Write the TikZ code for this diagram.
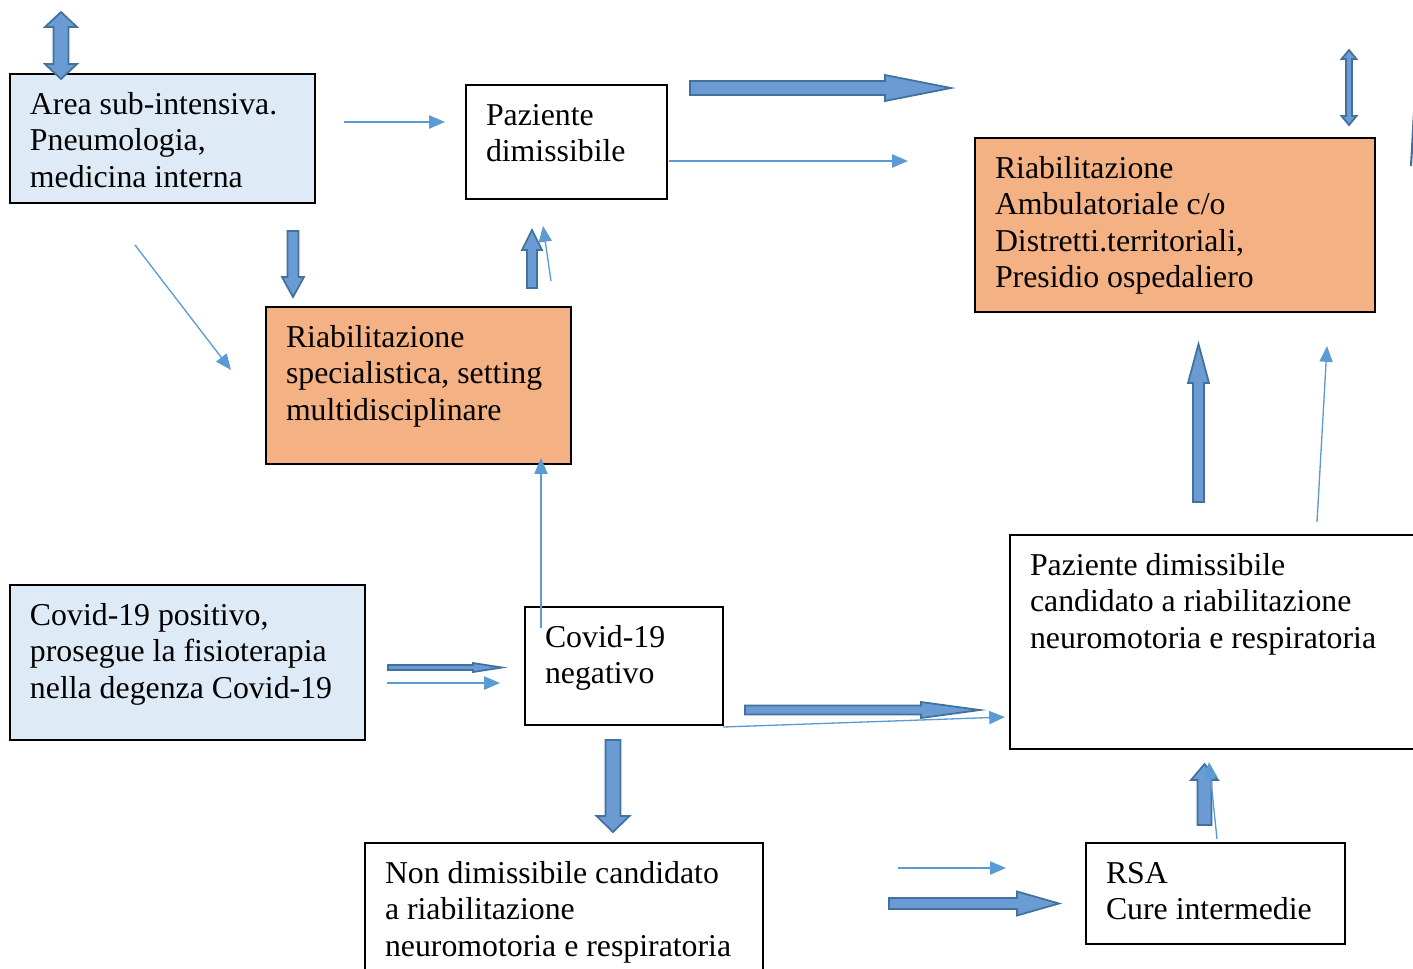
\documentclass[tikz,border=0pt]{standalone}
\usepackage{fontspec}
\setmainfont{Liberation Serif}
\usetikzlibrary{arrows.meta}
\newlength\px \setlength\px{0.02cm}
\definecolor{lblue}{HTML}{DEEBF7}
\definecolor{orng}{HTML}{F4B183}
\definecolor{thinc}{HTML}{5B9BD5}
\definecolor{bfill}{HTML}{6A9BD3}
\definecolor{bline}{HTML}{41719C}
\newcommand\bx[3]{\parbox[c][#2\px][t]{#1\px}{\fontsize{18.1pt}{20.7pt}\selectfont\setlength\leftskip{20\px}\vspace*{15\px}\strut #3}}
\newcommand\arrR[6]{\draw[barrow] (#1,#2-#4) -- (#3-#6,#2-#4) -- (#3-#6,#2-#5) -- (#3,#2) -- (#3-#6,#2+#5) -- (#3-#6,#2+#4) -- (#1,#2+#4) -- cycle;}
\newcommand\arrU[6]{\draw[barrow] (#1-#4,#2) -- (#1-#4,#3+#6) -- (#1-#5,#3+#6) -- (#1,#3) -- (#1+#5,#3+#6) -- (#1+#4,#3+#6) -- (#1+#4,#2) -- cycle;}
\newcommand\arrD[6]{\draw[barrow] (#1-#4,#2) -- (#1-#4,#3-#6) -- (#1-#5,#3-#6) -- (#1,#3) -- (#1+#5,#3-#6) -- (#1+#4,#3-#6) -- (#1+#4,#2) -- cycle;}
\newcommand\arrUD[6]{\draw[barrow] (#1,#2) -- (#1+#5,#2+#6) -- (#1+#4,#2+#6) -- (#1+#4,#3-#6) -- (#1+#5,#3-#6) -- (#1,#3) -- (#1-#5,#3-#6) -- (#1-#4,#3-#6) -- (#1-#4,#2+#6) -- (#1-#5,#2+#6) -- cycle;}
\begin{document}
\begin{tikzpicture}[x=0.02cm,y=-0.02cm,
  box/.style={draw=black, line width=0.75pt, anchor=north west, inner sep=0pt, outer sep=0pt},
  barrow/.style={draw=bline, fill=bfill, line width=1pt, line join=miter},
  thinarrow/.style={draw=thinc, line width=0.75pt, -{Triangle[length=9pt,width=7.5pt]}}]
\fill[white] (0,0) rectangle (1413,968);
\useasboundingbox (0,0) rectangle (1413,968);

% boxes
\node[box, fill=lblue] (area) at (10,74) {\bx{305}{129}{Area sub-intensiva.\\Pneumologia,\\medicina interna}};
\node[box, fill=white] (pdim) at (466,85) {\bx{201}{114}{Paziente\\dimissibile}};
\node[box, fill=orng] (amb) at (975,138) {\bx{400}{174}{Riabilitazione\\Ambulatoriale c/o\\Distretti.territoriali,\\Presidio ospedaliero}};
\node[box, fill=orng] (spec) at (266,307) {\bx{305}{157}{Riabilitazione\\specialistica, setting\\multidisciplinare}};
\node[box, fill=lblue] (cpos) at (10,585) {\bx{355}{155}{Covid-19 positivo,\\prosegue la fisioterapia\\nella degenza Covid-19}};
\node[box, fill=white] (cneg) at (525,607) {\bx{198}{118}{Covid-19\\negativo}};
\node[box, fill=white] (cand) at (1010,535) {\bx{420}{214}{Paziente dimissibile\\candidato a riabilitazione\\neuromotoria e respiratoria}};
\node[box, fill=white] (nondim) at (365,843) {\bx{398}{140}{Non dimissibile candidato\\a riabilitazione\\neuromotoria e respiratoria}};
\node[box, fill=white] (rsa) at (1086,843) {\bx{259}{101}{RSA\\Cure intermedie}};

% block arrows
\arrUD{61}{12}{79}{7.5}{16}{15}
\arrR{690}{88}{951}{7}{13}{66}
\arrUD{1349}{50}{125}{3}{7.5}{9}
\arrD{293}{231}{297}{5.5}{11}{20}
\arrU{532}{288}{230}{5}{10}{20}
\arrU{1198.5}{502}{344}{5.5}{10.5}{39}
\arrR{388}{667.5}{502}{2.5}{4.5}{29}
\arrR{745}{710}{980}{4.5}{8}{59}
\arrD{613}{740}{832}{7.5}{16.5}{16}
\arrR{889}{903.5}{1059}{5.5}{12}{42}
\arrU{1204.5}{825}{764}{7}{13.5}{16}
\draw[bline, line width=1.2pt] (1414,112) -- (1411,166);

% thin connectors
\coordinate (a1s) at (344,122); \coordinate (a1e) at (445,122);
\coordinate (a2s) at (669,161); \coordinate (a2e) at (908,161);
\coordinate (a3s) at (135,245); \coordinate (a3e) at (231,370);
\coordinate (a4s) at (551,281); \coordinate (a4e) at (543,226);
\coordinate (a5s) at (541,628); \coordinate (a5e) at (541,458);
\coordinate (a6s) at (387,683); \coordinate (a6e) at (500,683);
\coordinate (a7e) at (1005,717);
\coordinate (a8s) at (1317,522); \coordinate (a8e) at (1327,346);
\coordinate (a9s) at (898,868); \coordinate (a9e) at (1006,868);
\coordinate (a10s) at (1217,839); \coordinate (a10e) at (1209,762);
\draw[thinarrow] (a1s) -- (a1e);
\draw[thinarrow] (a2s) -- (a2e);
\draw[thinarrow] (a3s) -- (a3e);
\draw[thinarrow] (a4s) -- (a4e);
\draw[thinarrow] (a5s) -- (a5e);
\draw[thinarrow] (a6s) -- (a6e);
\draw[thinarrow] (cneg.south east) ++(0,2) -- (a7e);
\draw[thinarrow] (a8s) -- (a8e);
\draw[thinarrow] (a9s) -- (a9e);
\draw[thinarrow] (a10s) -- (a10e);
\end{tikzpicture}
\end{document}
